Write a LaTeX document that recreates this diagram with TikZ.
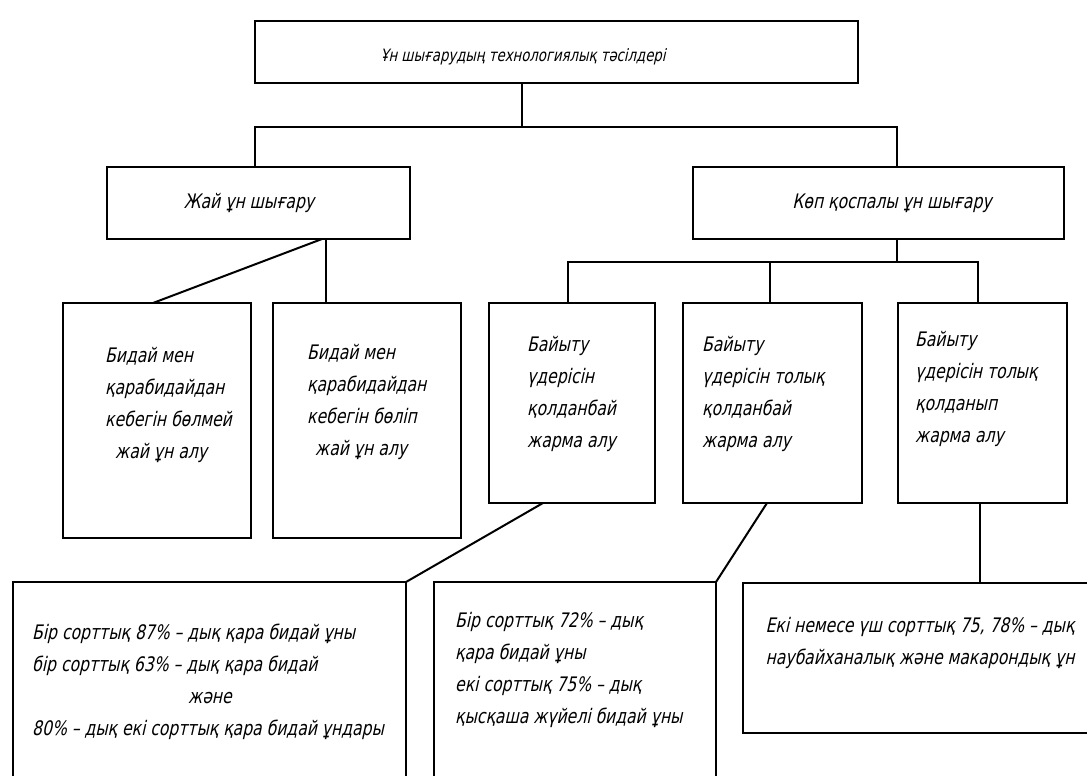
\documentclass[tikz,border=0pt]{standalone}
\usepackage{fontspec}
\newfontfamily\kzfont[FakeStretch=0.78,FakeSlant=0.22]{DejaVu Sans}
\usetikzlibrary{positioning}

\begin{document}
\begin{tikzpicture}[x=1pt, y=-1pt,
  box/.style={rectangle, draw, line width=2pt, inner sep=0pt, outer sep=0pt},
  txt/.style={font=\kzfont\fontsize{20}{32}\selectfont, inner sep=0pt, align=left},
  link/.style={draw, line width=2pt}
]
  \clip (0,0) rectangle (1087,776);

  % Boxes
  \node[box, minimum width=603pt, minimum height=62pt] (top) at (556.5,52) {};
  \node[box, minimum width=303pt, minimum height=72pt] (zhai) at (258.5,203) {};
  \node[box, minimum width=371pt, minimum height=72pt] (kop) at (878.5,203) {};
  \node[box, minimum width=188pt, minimum height=235pt] (b1) at (157,420.5) {};
  \node[box, minimum width=188pt, minimum height=235pt] (b2) at (367,420.5) {};
  \node[box, minimum width=166pt, minimum height=200pt] (b3) at (572,403) {};
  \node[box, minimum width=179pt, minimum height=200pt] (b4) at (772.5,403) {};
  \node[box, minimum width=169pt, minimum height=200pt] (b5) at (982.5,403) {};
  \node[box, minimum width=393pt, minimum height=218pt] (bot1) at (209.5,691) {};
  \node[box, minimum width=282pt, minimum height=218pt] (bot2) at (575,691) {};
  \node[box, minimum width=367pt, minimum height=150pt] (bot3) at (926.5,658) {};

  % Texts
  \node[txt, font=\kzfont\fontsize{17}{28}\selectfont] (topt) at (523,57) {Ұн шығарудың технологиялық тәсілдері};
  \node[txt] (zhait) at (249,203) {Жай ұн шығару};
  \node[txt] (kopt) at (892,203) {Көп қоспалы ұн шығару};
  \node[txt, anchor=north west] (b1t) at (105,347) {Бидай мен\\қарабидайдан\\кебегін бөлмей\\\hspace*{10pt}жай ұн алу};
  \node[txt, anchor=north west] (b2t) at (307,344) {Бидай мен\\қарабидайдан\\кебегін бөліп\\\hspace*{8pt}жай ұн алу};
  \node[txt, anchor=north west] (b3t) at (527,336) {Байыту\\үдерісін\\қолданбай\\жарма алу};
  \node[txt, anchor=north west] (b4t) at (702,336) {Байыту\\үдерісін толық\\қолданбай\\жарма алу};
  \node[txt, anchor=north west] (b5t) at (915,331) {Байыту\\үдерісін толық\\қолданып\\жарма алу};
  \node[txt, anchor=north west] (bot1t) at (32,624) {Бір сорттық 87\% – дық қара бидай ұны\\бір сорттық 63\% – дық қара бидай\\\hspace*{156pt}және\\80\% – дық екі сорттық қара бидай ұндары};
  \node[txt, anchor=north west] (bot2t) at (455,612) {Бір сорттық 72\% – дық\\қара бидай ұны\\екі сорттық 75\% – дық\\қысқаша жүйелі бидай ұны};
  \node[txt, align=center, anchor=north] (bot3t) at (920,617) {Екі немесе үш сорттық 75, 78\% – дық\\наубайханалық және макарондық ұн};

  % Connectors
  \coordinate (bar1) at (522,127);
  \coordinate (bar2) at (897,262);
  \draw[link] ([xshift=-34.5pt]top.south) -- (bar1);
  \draw[link] ([xshift=-3.5pt]zhai.north) |- (bar1) -| ([xshift=18.5pt]kop.north);
  \draw[link] ([xshift=18.5pt]kop.south) -- (bar2);
  \draw[link] ([xshift=-4pt]b3.north) |- (bar2) -| ([xshift=-4.5pt]b5.north);
  \draw[link] ([xshift=-2.5pt]b4.north) |- (bar2);
  \draw[link] ([xshift=63.5pt]zhai.south) -- ([xshift=-4pt]b1.north);
  \draw[link] ([xshift=67.5pt]zhai.south) -- ([xshift=-41pt]b2.north);
  \draw[link] ([xshift=-29pt]b3.south) -- (bot1.north east);
  \draw[link] ([xshift=-5.5pt]b4.south) -- (bot2.north east);
  \draw[link] ([xshift=-2.5pt]b5.south) -- ([xshift=53.5pt]bot3.north);
\end{tikzpicture}
\end{document}
